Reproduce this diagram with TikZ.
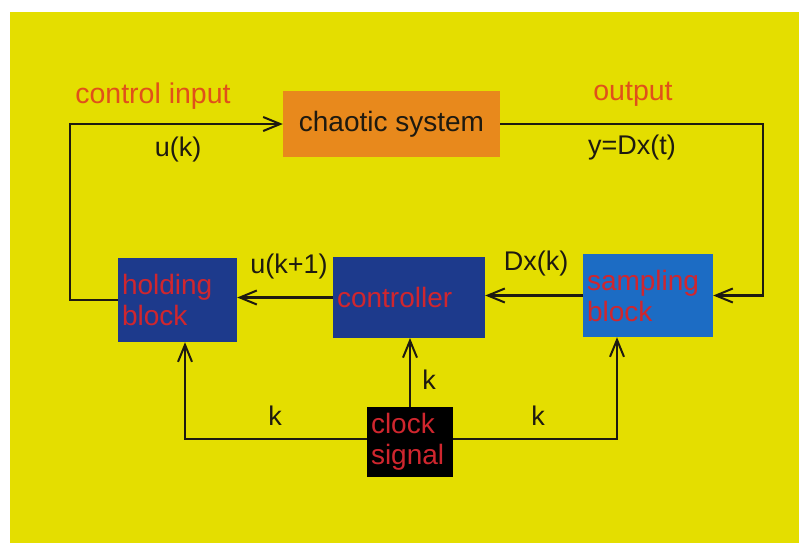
\documentclass[tikz,border=0pt]{standalone}
\usepackage{fontspec}
\setmainfont{Liberation Sans}
\usetikzlibrary{arrows.meta}
\definecolor{bgyellow}{HTML}{E4DE00}
\definecolor{orangebox}{HTML}{E8891C}
\definecolor{darkblue}{HTML}{1D3A8C}
\definecolor{lightblue}{HTML}{1C6CC4}
\definecolor{redtext}{HTML}{D0262E}
\definecolor{labred}{HTML}{E0501A}
\definecolor{linecol}{HTML}{1E1A10}
\tikzset{
  blockbox/.style={draw=none, inner sep=4pt, font=\fontsize{28}{31}\selectfont, text=redtext, align=left, anchor=center},
  conn/.style={draw=linecol, line width=2.3pt},
  arr/.style={conn, -{Straight Barb[length=17pt,width=14pt,line width=2pt]}},
  lab/.style={font=\fontsize{27}{30}\selectfont, text=linecol},
  redlab/.style={font=\fontsize{28.5}{30}\selectfont, text=labred}
}
\begin{document}
\begin{tikzpicture}[x=1pt,y=-1pt]
\useasboundingbox (0,0) rectangle (799,550);
\fill[white] (0,0) rectangle (799,550);
\fill[bgyellow] (10,12) rectangle (799,543);

\node[blockbox, fill=orangebox, minimum width=217pt, minimum height=66pt, text=linecol] (chaos) at (391.5,124) {chaotic system};
\node[blockbox, fill=darkblue, minimum width=119pt, minimum height=84pt, text width=111pt] (hold) at (177.5,300) {holding\\block};
\node[blockbox, fill=darkblue, minimum width=152pt, minimum height=81pt, text width=144pt] (ctrl) at (409,297.5) {controller};
\node[blockbox, fill=lightblue, minimum width=130pt, minimum height=83pt, text width=122pt] (samp) at (648,295.5) {sampling\\block};

\coordinate (L) at (70,124);
\coordinate (R) at (763,124);
\coordinate (CL) at (185,439);
\coordinate (CR) at (617,439);

\draw[arr] (hold.west) -| (L) -- (chaos.west);
\draw[arr] (chaos.east) -- (R) |- (samp.east);
\draw[arr] (samp.west) -- (samp.west -| ctrl.east);
\draw[arr] (ctrl.west) -- (ctrl.west -| hold.east);
\draw[arr] (410,439) -- (CL) -- (CL |- hold.south);
\draw[arr] (410,439) -- (CR) -- (CR |- samp.south);
\draw[arr] (410,439) -- (410,338);

\node[blockbox, fill=black, minimum width=86pt, minimum height=70pt, text width=78pt] (clk) at (410,442) {clock\\signal};

\node[redlab] (lci) at (153,96) {control input};
\node[redlab] (lout) at (633,94) {output};
\node[lab] (luk) at (178,150) {u(k)};
\node[lab] (ly) at (632,148) {y=Dx(t)};
\node[lab] (luk1) at (289,267) {u(k+1)};
\node[lab] (ldx) at (536,264) {Dx(k)};
\node[lab] (lk1) at (429,380) {k};
\node[lab] (lk2) at (275,416) {k};
\node[lab] (lk3) at (538,416) {k};
\end{tikzpicture}
\end{document}
